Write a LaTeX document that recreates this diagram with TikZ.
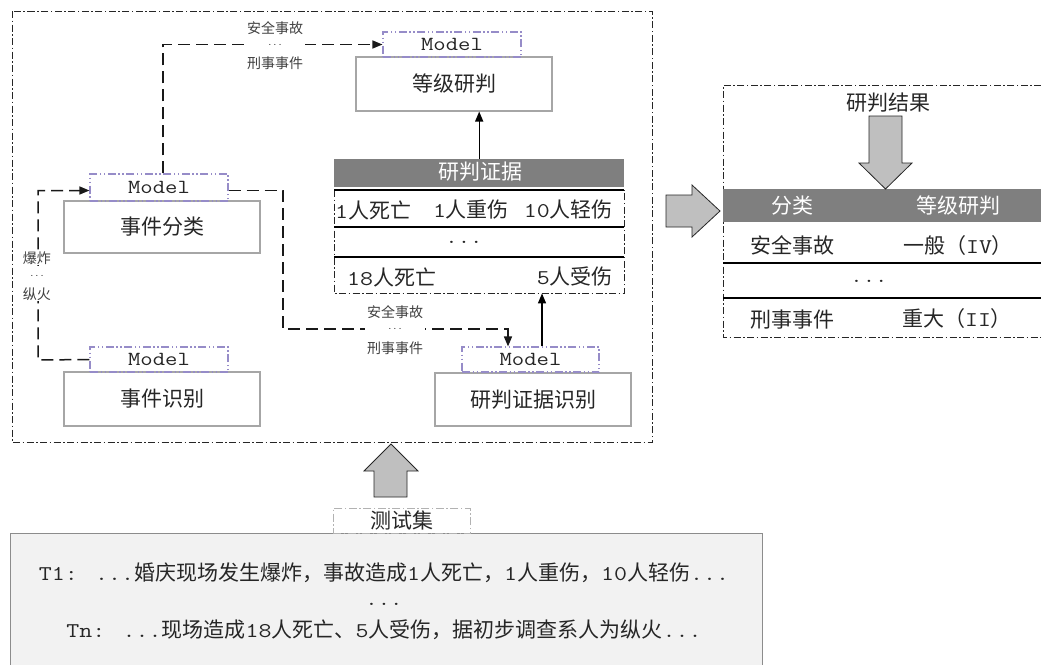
\documentclass[tikz,border=0pt]{standalone}
\usepackage{fontspec}
\setmainfont{Noto Sans CJK SC}
\newfontfamily\lat{Latin Modern Mono}[FakeStretch=1.2]
\usetikzlibrary{arrows.meta}
\definecolor{boxgray}{HTML}{A6A6A6}
\definecolor{lav}{RGB}{150,140,200}
\definecolor{hdr}{HTML}{7F7F7F}
\definecolor{blk}{HTML}{BFBFBF}
\definecolor{testfill}{HTML}{F2F2F2}
\definecolor{ink}{HTML}{262626}
\tikzset{
 frame/.style={draw=black!85, line width=0.8pt, dash pattern=on 7pt off 2.5pt on 1.5pt off 2.5pt},
 box/.style={draw=boxgray, line width=1.1pt, fill=white, inner sep=0pt, text=ink, font=\fontsize{21}{21}\selectfont},
 modelbox/.style={draw=lav, line width=1.1pt, dash pattern=on 8pt off 2.5pt on 1.5pt off 2.5pt on 1.5pt off 2.5pt, inner sep=0pt, text=ink, font=\lat\fontsize{20}{20}\selectfont},
 dconn/.style={draw=black!90, line width=1.5pt, dash pattern=on 12pt off 6pt},
 sconn/.style={draw=black, line width=1.4pt},
 tip/.style={-{Triangle[length=10pt,width=8pt]}},
 lab/.style={fill=white, inner sep=1pt, text=black!75, font=\fontsize{14}{14}\selectfont},
 dots/.style={fill=white, inner sep=1pt, text=black!80, font=\lat\fontsize{8}{8}\selectfont\bfseries},
 blockarrow/.style={draw=black!85, fill=blk, line width=0.8pt, line join=miter},
 tabline/.style={line width=1.5pt, draw=black},
 cell/.style={inner sep=0pt, text=ink, font=\fontsize{21}{21}\selectfont},
 hcell/.style={inner sep=0pt, text=white, font=\fontsize{21}{21}\selectfont},
}
\begin{document}
\begin{tikzpicture}[x=1pt,y=-1pt]
\useasboundingbox (0,0) rectangle (1041,664);
\fill[white] (0,0) rectangle (1041,664);

% ---------- main frame ----------
\draw[frame] (12,11) rectangle (652,442);

% ---------- boxes ----------
\node[box, minimum width=196pt, minimum height=54pt] (b1) at (454,84) {等级研判};
\node[box, minimum width=196pt, minimum height=52pt] (b2) at (162,227) {事件分类};
\node[box, minimum width=196pt, minimum height=54pt] (b3) at (162,399) {事件识别};
\node[box, minimum width=196pt, minimum height=53pt] (b4) at (533,399.5) {研判证据识别};

\node[modelbox, minimum width=138pt, minimum height=25pt] (m1) at (452,44.5) {Model};
\node[modelbox, minimum width=138pt, minimum height=27pt] (m2) at (159,187.5) {Model};
\node[modelbox, minimum width=138pt, minimum height=25pt] (m3) at (159,359.5) {Model};
\node[modelbox, minimum width=137pt, minimum height=25pt] (m4) at (530.5,359.5) {Model};

% ---------- evidence table ----------
\node[inner sep=0pt, minimum width=290pt, minimum height=134pt, anchor=north west] (tab1) at (334,159) {};
\node[fill=hdr, inner sep=0pt, minimum width=290pt, minimum height=28pt, anchor=north west] (h1) at (334,159) {};
\node[hcell] (h1t) at (480,172) {研判证据};
\draw[frame] (334,190) -- (334,293) -- (624,293) -- (624,190);
\draw[tabline] (334,190) -- (624,190);
\draw[tabline] (334,227) -- (624,227);
\draw[tabline] (334,257) -- (624,257);
\node[cell, anchor=west] (r11) at (335,210) {{\lat 1}人死亡};
\node[cell] (r12) at (471,210) {{\lat 1}人重伤};
\node[cell, anchor=east] (r13) at (613,210) {{\lat 10}人轻伤};
\node[cell, font=\lat\fontsize{20}{20}\selectfont] (r2) at (464,242) {...};
\node[cell, anchor=west] (r31) at (347,277) {{\lat 18}人死亡};
\node[cell, anchor=east] (r32) at (613,277) {{\lat 5}人受伤};

% ---------- connectors ----------
\draw[dconn, tip] ([xshift=4pt]m2.north) |- (m1.west);
\node[lab] (la1) at (275,28) {安全事故};
\node[dots, minimum width=60pt] (la2) at (275,45) {...};
\node[lab] (la3) at (275,63) {刑事事件};

\coordinate (r1) at (283,329);
\coordinate (r2c) at (508,329);
\draw[dconn, tip] ([yshift=-3pt]m2.east) -| (r1) -- (r2c) -- (r2c |- m4.north);
\node[lab] (lb1) at (395,312) {安全事故};
\node[dots, minimum width=60pt] (lb2) at (395,329) {...};
\node[lab] (lb3) at (395,348) {刑事事件};

\coordinate (l1) at (38,360);
\draw[dconn, tip] (m3.west) -- (l1) |- ([yshift=-3pt]m2.west);
\node[lab] (lc1) at (37,258) {爆炸};
\node[dots, minimum width=16pt, minimum height=20pt] (lc2) at (37,276) {...};
\node[lab] (lc3) at (37,294) {纵火};

\draw[sconn, tip] (tab1.north) -- (tab1.north |- b1.south);
\draw[sconn, tip] ([xshift=11.5pt]m4.north) -- ([xshift=11.5pt]m4.north |- tab1.south);

% ---------- result panel ----------
\node[inner sep=0pt, minimum width=318pt, minimum height=252pt, anchor=north west] (rp) at (723,85) {};
\draw[frame] (1041,85) -- (723,85) -- (723,337) -- (1041,337);
\fill[hdr] (723,189) rectangle (1041,222);
\draw[tabline] (723,263) -- (1041,263);
\draw[tabline] (723,298) -- (1041,298);
\node[cell] (res) at (888,103) {研判结果};
\node[hcell] (hc1) at (792,206) {分类};
\node[hcell] (hc2) at (958,206) {等级研判};
\node[cell] (c11) at (792,245) {安全事故};
\node[cell] (c12) at (958,246) {一般（{\lat IV}）};
\node[cell, font=\lat\fontsize{20}{20}\selectfont] (c2) at (869,281) {...};
\node[cell] (c31) at (792,320) {刑事事件};
\node[cell] (c32) at (957,319) {重大（{\lat II}）};

% ---------- block arrows ----------
\draw[blockarrow] (869,116) -- (902,116) -- (902,163) -- (912,163) -- (885.5,189) -- (859,163) -- (869,163) -- cycle;
\draw[blockarrow] (666,195) -- (692,195) -- (692,185) -- (720,211) -- (692,237) -- (692,227) -- (666,227) -- cycle;
\draw[blockarrow] (374,497) -- (374,471) -- (364,471) -- (391,444) -- (418,471) -- (407,471) -- (407,497) -- cycle;

% ---------- test set ----------
\node[draw=black!45, fill=testfill, line width=1.2pt, minimum width=752pt, minimum height=140pt, anchor=north west] (tb) at (10,533) {};
\node[draw=black!30, line width=1pt, dash pattern=on 8pt off 2.5pt on 1.5pt off 2.5pt, fill=white, inner sep=0pt, minimum width=137pt, minimum height=25pt, text=ink, font=\fontsize{21}{21}\selectfont] (ts) at (401.5,520.5) {测试集};
\node[cell] (t1) at (384,573) {{\lat T1: ...}婚庆现场发生爆炸，事故造成{\lat 1}人死亡，{\lat 1}人重伤，{\lat 10}人轻伤{\lat ...}};
\node[cell, font=\lat\fontsize{20}{20}\selectfont] (t2) at (384,604) {...};
\node[cell] (t3) at (384,630) {{\lat Tn: ...}现场造成{\lat 18}人死亡、{\lat 5}人受伤，据初步调查系人为纵火{\lat ...}};
\end{tikzpicture}
\end{document}
